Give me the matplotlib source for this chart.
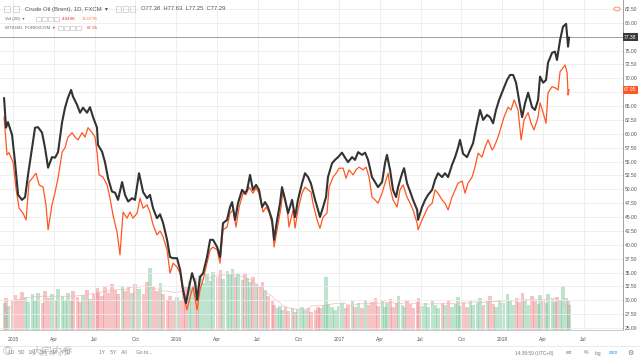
import matplotlib.pyplot as plt
import matplotlib.patches as mpatches
import numpy as np

plt.rcParams['font.family'] = ['Liberation Sans', 'DejaVu Sans']

# Brent (FXCM) closes, x in decimal years
brent_t = [2014.945, 2014.957, 2014.969, 2014.994, 2015.012, 2015.031, 2015.055, 2015.074, 2015.092, 2015.117,
           2015.135, 2015.153, 2015.178, 2015.196, 2015.215, 2015.239, 2015.258, 2015.276, 2015.301, 2015.319,
           2015.337, 2015.356, 2015.368, 2015.393, 2015.411, 2015.429, 2015.454, 2015.472, 2015.491, 2015.515,
           2015.521, 2015.546, 2015.564, 2015.583, 2015.607, 2015.626, 2015.644, 2015.669, 2015.687, 2015.706,
           2015.730, 2015.748, 2015.773, 2015.798, 2015.822, 2015.840, 2015.859, 2015.883, 2015.902, 2015.920,
           2015.945, 2015.963, 2015.982, 2016.006, 2016.025, 2016.043, 2016.061, 2016.080, 2016.098, 2016.117,
           2016.129, 2016.147, 2016.166, 2016.190, 2016.209, 2016.227, 2016.252, 2016.270, 2016.288, 2016.313,
           2016.331, 2016.344, 2016.362, 2016.380, 2016.405, 2016.423, 2016.436, 2016.454, 2016.472, 2016.491,
           2016.509, 2016.528, 2016.546, 2016.564, 2016.589, 2016.601, 2016.620, 2016.638, 2016.650, 2016.669,
           2016.687, 2016.712, 2016.730, 2016.748, 2016.773, 2016.791, 2016.810, 2016.828, 2016.853, 2016.871,
           2016.883, 2016.902, 2016.920, 2016.932, 2016.957, 2016.975, 2016.994, 2017.018, 2017.037, 2017.055,
           2017.080, 2017.098, 2017.117, 2017.141, 2017.160, 2017.178, 2017.202, 2017.221, 2017.239, 2017.264,
           2017.282, 2017.294, 2017.313, 2017.331, 2017.350, 2017.362, 2017.387, 2017.399, 2017.417, 2017.436,
           2017.454, 2017.479, 2017.485, 2017.509, 2017.528, 2017.546, 2017.571, 2017.589, 2017.607, 2017.632,
           2017.650, 2017.669, 2017.693, 2017.712, 2017.730, 2017.742, 2017.761, 2017.785, 2017.804, 2017.822,
           2017.847, 2017.865, 2017.884, 2017.908, 2017.926, 2017.945, 2017.963, 2017.982, 2018.006, 2018.031,
           2018.049, 2018.068, 2018.086, 2018.104, 2018.123, 2018.141, 2018.160, 2018.184, 2018.202, 2018.221,
           2018.233, 2018.252, 2018.270, 2018.282, 2018.307, 2018.325, 2018.337, 2018.356, 2018.374, 2018.393,
           2018.405, 2018.411]
brent = [66.4, 61.1, 62.1, 59.8, 54.9, 49.0, 48.1, 48.6, 52.6, 57.5,
         61.1, 61.2, 60.2, 57.5, 53.9, 55.8, 55.7, 56.7, 62.1, 64.7,
         66.5, 67.9, 66.7, 65.2, 63.8, 64.7, 63.8, 64.8, 63.0, 61.1,
         58.0, 56.8, 54.9, 52.0, 49.6, 49.4, 48.1, 51.3, 49.0, 47.8,
         48.4, 48.1, 52.9, 49.5, 48.4, 49.0, 46.6, 44.8, 45.5, 44.0,
         40.9, 37.8, 37.6, 37.6, 35.5, 31.9, 29.5, 32.4, 34.9, 33.1,
         30.1, 34.2, 34.9, 37.8, 40.9, 40.9, 39.6, 37.8, 43.9, 44.5,
         46.8, 47.7, 44.5, 47.5, 49.9, 49.3, 49.9, 52.6, 49.9, 50.8,
         49.9, 46.8, 47.7, 46.8, 44.5, 40.9, 44.5, 47.5, 50.4, 48.1,
         45.7, 48.1, 45.0, 48.1, 51.1, 52.9, 52.2, 51.0, 48.1, 46.3,
         45.0, 46.8, 48.6, 52.2, 54.7, 55.3, 55.8, 56.6, 55.7, 54.9,
         55.8, 55.3, 56.7, 56.2, 56.6, 55.3, 52.2, 51.3, 50.4, 51.3,
         54.7, 56.2, 53.5, 49.9, 48.6, 50.4, 52.9, 53.8, 51.1, 49.6,
         48.1, 46.3, 44.5, 46.8, 48.1, 49.0, 49.9, 51.7, 52.9, 52.2,
         52.9, 52.2, 54.4, 55.8, 57.5, 58.9, 56.4, 55.8, 57.1, 58.3,
         61.9, 64.3, 62.5, 63.4, 63.0, 61.9, 64.3, 66.1, 67.9, 69.7,
         70.6, 70.6, 69.2, 66.1, 63.0, 65.5, 67.4, 64.8, 64.3, 66.1,
         70.3, 69.2, 69.7, 72.8, 74.6, 74.8, 73.3, 76.9, 79.3, 79.8,
         75.7, 77.3]

# volume (thousands), one bar per Brent sample
volume_k = [4.2, 5.1, 3.8, 4.6, 5.5, 4.9, 6.0, 5.2, 4.4, 5.7,
            4.8, 5.9, 4.3, 6.2, 5.0, 5.6, 4.5, 6.4, 5.3, 4.7,
            5.8, 4.6, 6.1, 5.2, 4.4, 5.5, 6.3, 4.9, 5.7, 6.6,
            6.0, 5.4, 6.9, 5.8, 7.2, 6.3, 5.6, 7.0, 6.1, 6.8,
            5.9, 7.3, 6.4, 5.7, 7.6, 9.8, 6.8, 6.1, 7.4, 5.6,
            4.8, 5.4, 4.5, 5.2, 4.6, 5.8,
            6.9, 7.8, 6.6, 8.2, 7.1, 8.6, 7.4, 8.9, 7.7, 9.2, 8.4, 9.5, 8.1, 9.3,
            8.7, 9.6, 8.3, 9.0, 7.9, 8.8, 8.2, 7.5, 8.4, 7.2, 6.8, 7.6, 6.3, 5.4, 4.6,
            3.9, 3.4, 3.8, 3.2, 3.6, 3.0, 3.5, 2.9, 3.3, 3.7, 3.1, 3.4, 2.8, 3.2, 3.6,
            3.4, 3.9, 8.4, 4.1, 3.6, 3.2, 3.8, 4.3, 3.5, 3.9,
            4.6, 3.7, 4.2, 3.4, 4.8, 3.9, 4.4, 5.1, 3.8, 4.5,
            3.6, 4.2, 4.9, 3.7, 4.3, 5.3, 4.0, 3.6, 4.7, 4.1,
            3.5, 4.4, 5.0, 3.8, 4.2, 3.6, 4.6, 4.0, 3.4, 4.3,
            3.9, 4.8, 3.7, 4.1, 5.2, 3.8, 4.4, 3.6, 4.5, 4.0,
            4.3, 5.0, 3.9, 4.6, 5.4, 4.1, 3.7, 4.8, 4.2, 5.6,
            4.5, 3.9, 5.1, 4.4, 5.8, 4.7, 4.0, 5.3, 4.6, 4.1,
            5.5, 4.8, 4.3, 5.7, 4.9, 4.4, 5.2, 4.7, 6.9, 5.0,
            4.5, 4.0]

# WTI (FOREXCOM)
wti_t = [2014.945, 2014.963, 2014.975, 2015.000, 2015.018, 2015.037, 2015.061, 2015.080, 2015.098, 2015.123,
         2015.141, 2015.160, 2015.184, 2015.202, 2015.215, 2015.239, 2015.258, 2015.276, 2015.301, 2015.319,
         2015.337, 2015.362, 2015.380, 2015.399, 2015.423, 2015.442, 2015.460, 2015.485, 2015.503, 2015.515,
         2015.528, 2015.552, 2015.577, 2015.595, 2015.613, 2015.638, 2015.656, 2015.675, 2015.699, 2015.718,
         2015.736, 2015.761, 2015.779, 2015.798, 2015.822, 2015.840, 2015.859, 2015.883, 2015.902, 2015.920,
         2015.945, 2015.963, 2015.982, 2016.006, 2016.025, 2016.043, 2016.067, 2016.086, 2016.104, 2016.129,
         2016.147, 2016.166, 2016.190, 2016.209, 2016.227, 2016.252, 2016.270, 2016.288, 2016.313, 2016.331,
         2016.350, 2016.368, 2016.387, 2016.411, 2016.429, 2016.448, 2016.472, 2016.491, 2016.509, 2016.534,
         2016.552, 2016.571, 2016.595, 2016.601, 2016.620, 2016.644, 2016.656, 2016.681, 2016.693, 2016.718,
         2016.730, 2016.748, 2016.773, 2016.791, 2016.810, 2016.828, 2016.840, 2016.865, 2016.883, 2016.902,
         2016.926, 2016.939, 2016.963, 2016.982, 2017.000, 2017.025, 2017.043, 2017.061, 2017.086, 2017.104,
         2017.123, 2017.147, 2017.166, 2017.184, 2017.202, 2017.221, 2017.239, 2017.264, 2017.282, 2017.301,
         2017.313, 2017.331, 2017.356, 2017.374, 2017.393, 2017.417, 2017.436, 2017.454, 2017.479, 2017.485,
         2017.509, 2017.528, 2017.546, 2017.571, 2017.589, 2017.607, 2017.632, 2017.650, 2017.669, 2017.693,
         2017.712, 2017.730, 2017.755, 2017.773, 2017.791, 2017.816, 2017.834, 2017.853, 2017.877, 2017.896,
         2017.914, 2017.939, 2017.951, 2017.975, 2017.994, 2018.012, 2018.037, 2018.055, 2018.074, 2018.098,
         2018.117, 2018.135, 2018.160, 2018.178, 2018.196, 2018.221, 2018.233, 2018.252, 2018.270, 2018.282,
         2018.307, 2018.325, 2018.344, 2018.356, 2018.374, 2018.387, 2018.399, 2018.405, 2018.411]
wti = [63.0, 56.2, 56.6, 54.9, 50.2, 46.6, 45.7, 44.5, 51.3, 52.2,
       52.9, 50.8, 50.4, 47.2, 42.7, 47.2, 49.5, 52.0, 56.7, 57.5,
       59.4, 60.2, 59.4, 58.9, 60.2, 59.4, 61.1, 60.2, 59.4, 56.7,
       52.6, 52.2, 50.8, 48.4, 45.4, 42.3, 38.2, 45.9, 44.8, 45.9,
       44.8, 45.7, 48.4, 46.6, 47.2, 45.9, 43.6, 41.8, 42.5, 41.5,
       39.1, 34.9, 36.7, 36.0, 34.9, 31.3, 28.3, 30.6, 32.4, 28.3,
       31.9, 33.7, 36.7, 39.1, 39.6, 39.1, 36.7, 42.7, 43.2, 45.7,
       46.3, 43.2, 46.8, 49.3, 49.0, 50.4, 49.3, 50.2, 49.3, 45.9,
       46.8, 45.9, 43.2, 39.6, 42.7, 46.8, 49.9, 46.8, 43.2, 46.3,
       43.0, 46.3, 49.3, 50.4, 49.9, 49.5, 47.5, 44.5, 43.0, 45.0,
       45.7, 50.4, 52.2, 52.9, 53.8, 53.8, 52.0, 53.5, 52.6, 53.5,
       54.0, 53.5, 54.0, 52.2, 48.6, 48.1, 47.5, 49.3, 51.1, 52.9,
       50.4, 48.1, 46.8, 49.9, 50.8, 48.6, 47.5, 46.3, 43.9, 42.7,
       44.5, 45.7, 46.8, 47.5, 49.9, 49.3, 48.1, 47.5, 46.3, 48.6,
       49.9, 51.1, 51.5, 49.3, 51.1, 52.2, 54.0, 56.5, 55.8, 57.6,
       58.9, 57.1, 57.6, 59.4, 61.2, 63.0, 64.8, 64.3, 66.1, 64.3,
       58.9, 62.5, 63.8, 61.9, 60.7, 63.0, 65.6, 63.8, 61.9, 67.4,
       68.5, 68.3, 67.9, 71.2, 71.9, 72.4, 71.0, 67.0, 67.95]

brent_last = 77.38
wti_last = 67.95
price_ticks = np.arange(25, 82.6, 2.5)
time_ticks = [2015, 2015.25, 2015.5, 2015.75, 2016, 2016.25, 2016.5, 2016.75,
              2017, 2017.25, 2017.5, 2017.75, 2018, 2018.25, 2018.5]
time_labels = ['2015', 'Apr', 'Jul', 'Oct', '2016', 'Apr', 'Jul', 'Oct',
               '2017', 'Apr', 'Jul', 'Oct', '2018', 'Apr', 'Jul']

W, H = 640, 363
fig = plt.figure(figsize=(6.4, 3.63), dpi=100)
rect = [0, 33 / H, 623 / W, 330 / H]
xlim = (2014.920, 2018.742)

# volume pane underneath
axv = fig.add_axes(rect)
n = min(len(brent_t), len(volume_k))
chg = np.diff(np.array(brent[:n]), prepend=brent[0])
vcol = ['#7cc79e' if c >= 0 else '#f08a8f' for c in chg]
axv.bar(brent_t[:n], volume_k[:n], width=0.019, color=vcol, alpha=0.5, linewidth=0)
ma = np.convolve(volume_k[:n], np.ones(12) / 12, mode='same')
axv.plot(brent_t[:n], ma, color='#f2b8b8', lw=0.6, alpha=0.8)
axv.set_xlim(xlim)
axv.set_ylim(0, 52)
axv.axis('off')

ax = fig.add_axes(rect)
ax.set_zorder(axv.get_zorder() + 1)
ax.patch.set_visible(False)
ax.plot(wti_t, wti, color='#ff5722', lw=0.9, zorder=3)
ax.plot(brent_t, brent, color='#333333', lw=1.5, zorder=4)
ax.axhline(brent_last, color='#9e9e9e', lw=0.7, zorder=2)

ax.set_xlim(xlim)
ax.set_ylim(24.66, 84.1)
ax.yaxis.tick_right()
ax.set_yticks(price_ticks)
# labels under the last-value tags are hidden, as on the chart
ax.set_yticklabels(['' if abs(v - brent_last) < 1 or abs(v - wti_last) < 1 else '%.2f' % v
                    for v in price_ticks])
ax.set_xticks(time_ticks)
ax.set_xticklabels(time_labels)
ax.tick_params(axis='both', labelsize=3.6, colors='#555555', length=0)
ax.tick_params(axis='y', pad=1.5)
ax.tick_params(axis='x', pad=5)
ax.grid(color='#ececec', lw=0.6)
for s in ['top', 'left']:
    ax.spines[s].set_visible(False)
ax.spines['right'].set_color('#a0a0a0')
ax.spines['bottom'].set_color('#c8c8c8')
ax.spines['right'].set_linewidth(0.7)
ax.spines['bottom'].set_linewidth(0.7)

# last value tags on the price scale
ytr = ax.get_yaxis_transform()
ax.text(1.002, brent_last, '%.2f' % brent_last, transform=ytr, ha='left', va='center',
        fontsize=3.6, color='white', clip_on=False, zorder=10,
        bbox=dict(boxstyle='square,pad=0.3', fc='#3a3a3a', ec='none'))
ax.text(1.002, wti_last, '%.2f' % wti_last, transform=ytr, ha='left', va='center',
        fontsize=3.6, color='white', clip_on=False, zorder=10,
        bbox=dict(boxstyle='square,pad=0.3', fc='#ff5722', ec='none'))


def fx(x):
    return x / W


def fy(y):
    return 1 - y / H


def box(x, y, w=6, h=5, ec='#c8c8c8'):
    fig.patches.append(mpatches.Rectangle((fx(x), fy(y + h / 2)), w / W, h / H, fill=False,
                                          ec=ec, lw=0.5, transform=fig.transFigure))


# header legend
box(4, 9)
box(13, 9)
fig.text(fx(25), fy(9), 'Crude Oil (Brent), 1D, FXCM  \u25be', fontsize=4.3, color='#555555', va='center')
for bx in [116, 123, 130]:
    box(bx, 9, 5, 5)
fig.text(fx(141), fy(9), 'O77.38  H77.63  L77.25  C77.29', fontsize=4.2, color='#555555', va='center')
fig.text(fx(5), fy(19), 'Vol (20)  \u25be', fontsize=3.2, color='#666666', va='center')
for bx in [36, 42, 48, 54]:
    box(bx, 19, 5, 4)
fig.text(fx(62), fy(19), '4.049K', fontsize=3.2, color='#e53935', va='center')
fig.text(fx(82), fy(19), '15.077K', fontsize=3.2, color='#ff7043', va='center')
fig.text(fx(5), fy(28), 'WTIUSD, FOREXCOM  \u25be', fontsize=3.2, color='#666666', va='center')
for bx in [58, 64, 70, 76]:
    box(bx, 28, 5, 4)
fig.text(fx(87), fy(28), '67.95', fontsize=3.2, color='#e53935', va='center')
fig.patches.append(mpatches.Circle((fx(617), fy(9)), 3.2 / W, fill=False, ec='#ffa270', lw=0.8,
                                   transform=fig.transFigure))

# bottom toolbar
fig.lines.append(plt.Line2D([0, 1], [fy(346), fy(346)], color='#e6e6e6', lw=0.6, transform=fig.transFigure))
fig.text(fx(8), fy(353), '1D   5D   1M   3M   6M   YTD', fontsize=3.4, color='#777777', va='center')
fig.text(fx(99), fy(353), '1Y    5Y    All       Go to...', fontsize=3.4, color='#777777', va='center')
fig.text(fx(515), fy(353), '14:39:59 (UTC+8)', fontsize=3.4, color='#777777', va='center')
fig.text(fx(566), fy(353), 'ext', fontsize=3.4, color='#777777', va='center')
fig.text(fx(584), fy(353), '%', fontsize=3.8, color='#777777', va='center')
fig.text(fx(595), fy(353), 'log', fontsize=3.4, color='#777777', va='center')
fig.text(fx(609), fy(353), 'auto', fontsize=3.4, color='#2196f3', va='center')
fig.text(fx(627), fy(353), '\u2699', fontsize=5, color='#777777', va='center',
         family=['DejaVu Sans'])
fig.text(fx(3), fy(352), '\u00a9', fontsize=9, color='#9a9a9a', alpha=0.6, va='center')
fig.text(fx(32), fy(352), '大宗内参', fontsize=7.5, color='#9a9a9a', alpha=0.6, va='center',
         family=['Noto Sans CJK SC', 'DejaVu Sans'])

fig.savefig('out.png', dpi=100)
